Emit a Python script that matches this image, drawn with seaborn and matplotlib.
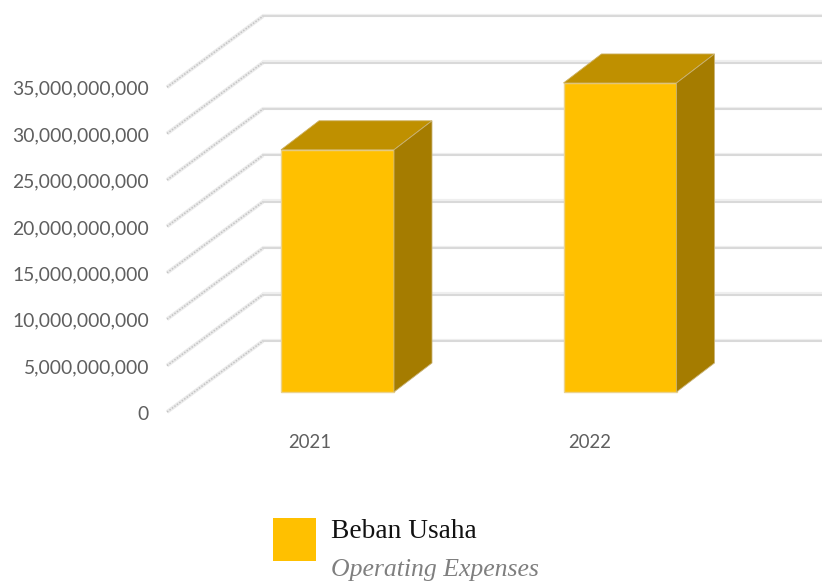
import matplotlib
matplotlib.use("Agg")
import matplotlib.pyplot as plt
import pandas as pd
import seaborn as sns
from matplotlib.patches import Polygon, Rectangle

# -------------------------------
# Data
# -------------------------------
years = ["2021", "2022"]
beban_usaha = [26100000000, 33300000000]
y_ticks = [0, 5000000000, 10000000000, 15000000000, 20000000000,
           25000000000, 30000000000, 35000000000]

FRONT = "#FFC000"
TOP = "#BF9000"
SIDE = "#A57C00"

# pixel layout of the fake 3D box
W, H = 822, 583
BASE_Y = 392        # bar front bottom
PX_PER_5B = 46.4
CENTER_0, CENTER_1 = 337.5, 620
DEPTH_X, DEPTH_Y = 38, 29

sns.set_theme(style="white")
fig = plt.figure(figsize=(W / 100, H / 100), dpi=100)
ax = fig.add_axes([0, 0, 1, 1])

df = pd.DataFrame({"year": years, "value": beban_usaha})
sns.barplot(data=df, x="year", y="value", color=FRONT, saturation=1, width=0.4,
            edgecolor="#EBD28C", linewidth=1, ax=ax, zorder=4)

px_x = CENTER_1 - CENTER_0
val_per_px = 5e9 / PX_PER_5B
ax.set_xlim(-CENTER_0 / px_x, (W - CENTER_0) / px_x)
ax.set_ylim((BASE_Y - H) * val_per_px, BASE_Y * val_per_px)
ax.axis("off")

dx = DEPTH_X / px_x
dy = DEPTH_Y * val_per_px


def to_x(px):
    return (px - CENTER_0) / px_x


# -------------------------------
# Back wall gridlines and floor diagonals
# -------------------------------
for v in y_ticks:
    back = v + 51 * val_per_px
    front = v - 20 * val_per_px
    ax.plot([to_x(263), to_x(W)], [back + 1.5 * val_per_px] * 2, color="#EFEFEF", lw=1.6, zorder=1)
    ax.plot([to_x(263), to_x(W)], [back] * 2, color="#D9D9D9", lw=1.5, zorder=2)
    ax.plot([to_x(167), to_x(263)], [front, back], color="#EBEBEB", lw=2.8, zorder=1,
            solid_capstyle="butt")
    ax.plot([to_x(167), to_x(263)], [front, back], color="#C4C4C4", lw=1.1, zorder=2,
            linestyle=(0, (1, 1)))
    # tick label sits at the front end of the diagonal
    ax.annotate(f"{v:,}", xy=(to_x(149), front - 2 * val_per_px), ha="right", va="center",
                fontsize=13.9, family="Lato", color="#5F5F5F")

# -------------------------------
# Bar top and side faces
# -------------------------------
half = 0.2
label_shift = [-28, -30]
for i, v in enumerate(beban_usaha):
    ax.add_patch(Polygon([(i - half, v), (i + half, v), (i + half + dx, v + dy), (i - half + dx, v + dy)],
                         facecolor=TOP, edgecolor="#CDB060", lw=0.6, zorder=5))
    ax.add_patch(Polygon([(i + half, 0), (i + half + dx, dy), (i + half + dx, v + dy), (i + half, v)],
                         facecolor=SIDE, edgecolor="#C9B377", lw=0.6, zorder=5))
    ax.annotate(years[i], xy=(i, 0), xytext=(label_shift[i], -50), textcoords="offset pixels",
                ha="center", va="center", fontsize=13.4, family="Lato", color="#5F5F5F")

# -------------------------------
# Legend
# -------------------------------
fig.add_artist(Rectangle((273 / W, 1 - 561 / H), 43 / W, 43 / H, transform=fig.transFigure,
                         facecolor=FRONT, edgecolor="none"))
fig.text(331 / W, 1 - 532 / H, "Beban Usaha", family="Liberation Serif", fontsize=19.7,
         color="#111111", va="center", ha="left")
fig.text(331 / W, 1 - 570 / H, "Operating Expenses", family="Liberation Serif", style="italic",
         fontsize=18.5, color="#7F7F7F", va="center", ha="left")

fig.savefig("out.png", dpi=100)
